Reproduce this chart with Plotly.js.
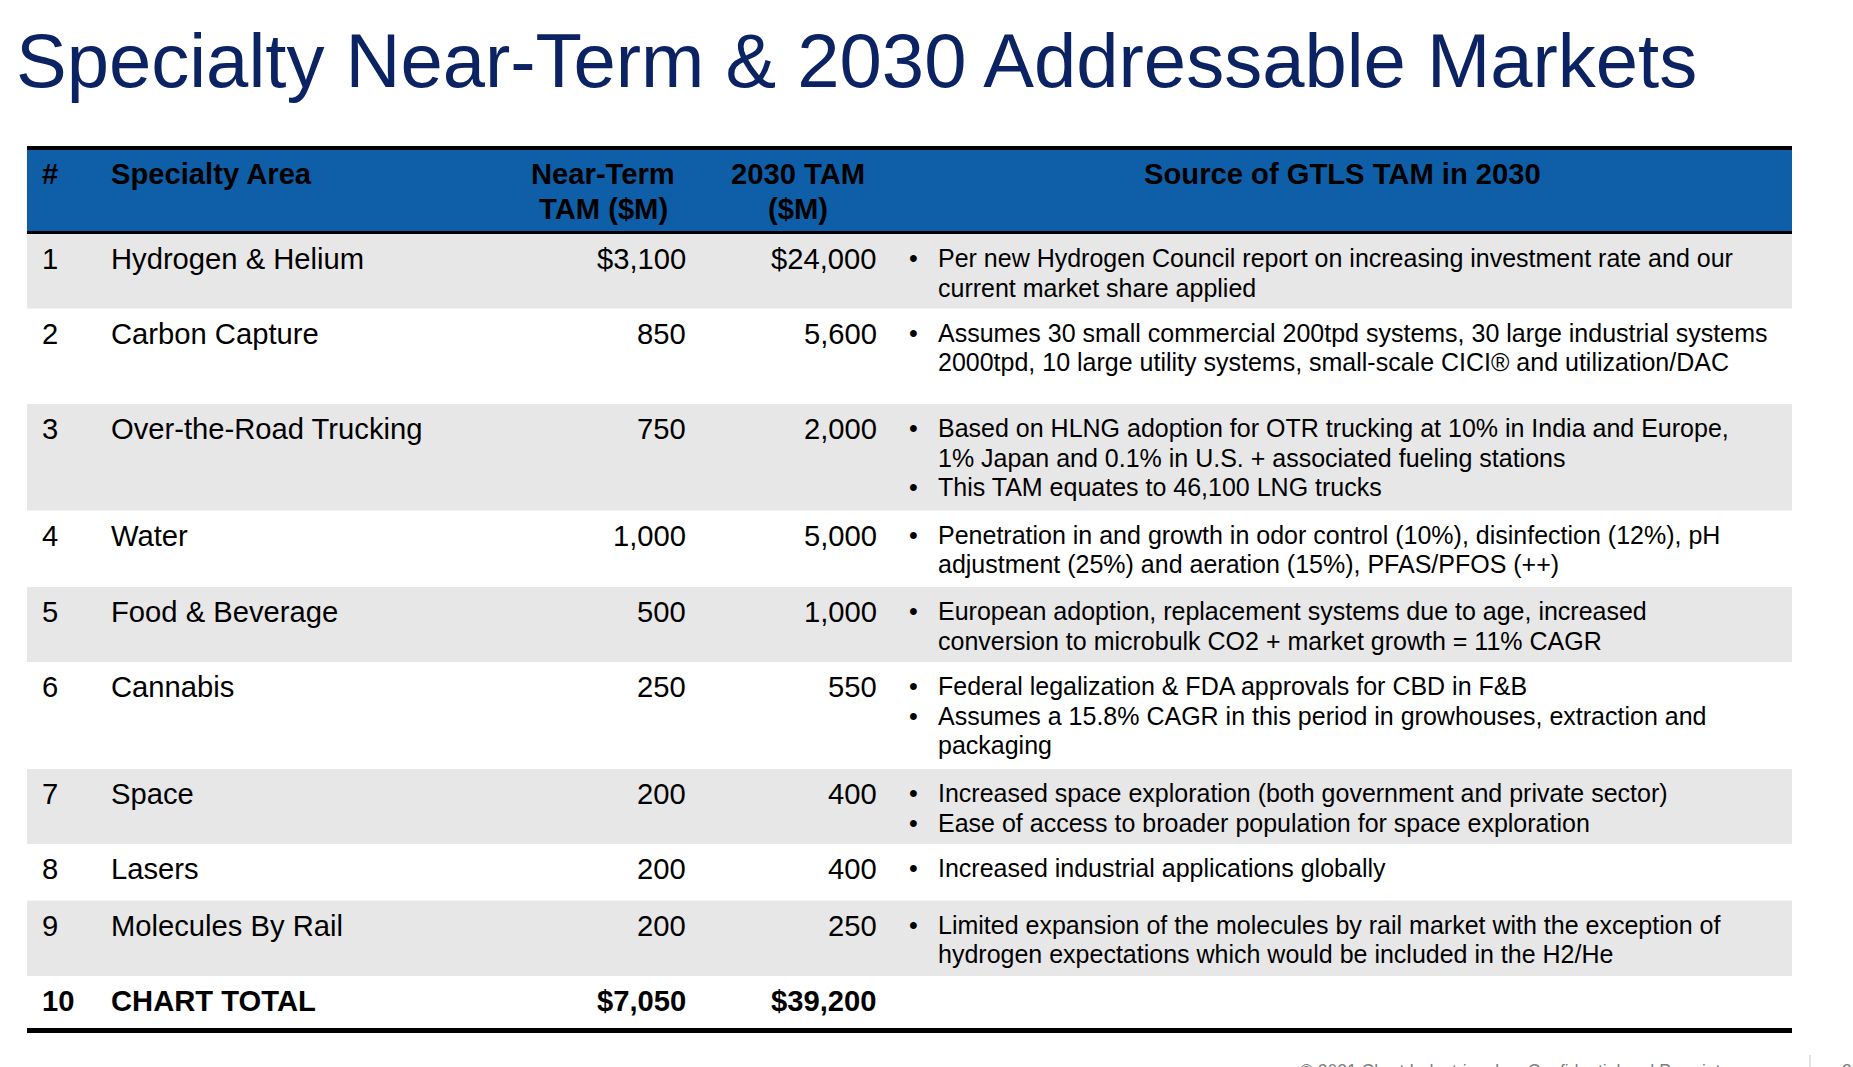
<!DOCTYPE html>
<html><head><meta charset="utf-8">
<script src="https://cdn.plot.ly/plotly-3.0.1.min.js"></script>
<style>html,body{margin:0;padding:0;background:#fff;overflow:hidden}</style>
</head><body><div id="chart" style="width:1853px;height:1067px"></div>
<script>
// ---------- DATA ----------
const titleText = "Specialty Near-Term & 2030 Addressable Markets";
const headers = ["#", "Specialty Area", ["Near-Term", "TAM ($M)"], ["2030 TAM", "($M)"], "Source of GTLS TAM in 2030"];
const rowNums = [1, 2, 3, 4, 5, 6, 7, 8, 9, 10];
const areas = ["Hydrogen & Helium", "Carbon Capture", "Over-the-Road Trucking", "Water", "Food & Beverage",
  "Cannabis", "Space", "Lasers", "Molecules By Rail", "CHART TOTAL"];
const nearTerm = [3100, 850, 750, 1000, 500, 250, 200, 200, 200, 7050];
const tam2030 = [24000, 5600, 2000, 5000, 1000, 550, 400, 400, 250, 39200];
const dollarSign = [true, false, false, false, false, false, false, false, false, true];
const sources = [
  [["Per new Hydrogen Council report on increasing investment rate and our", "current market share applied"]],
  [["Assumes 30 small commercial 200tpd systems, 30 large industrial systems", "2000tpd, 10 large utility systems, small-scale CICI® and utilization/DAC"]],
  [["Based on HLNG adoption for OTR trucking at 10% in India and Europe,", "1% Japan and 0.1% in U.S. + associated fueling stations"], ["This TAM equates to 46,100 LNG trucks"]],
  [["Penetration in and growth in odor control (10%), disinfection (12%), pH", "adjustment (25%) and aeration (15%), PFAS/PFOS (++)"]],
  [["European adoption, replacement systems due to age, increased", "conversion to microbulk CO2 + market growth = 11% CAGR"]],
  [["Federal legalization & FDA approvals for CBD in F&B"], ["Assumes a 15.8% CAGR in this period in growhouses, extraction and", "packaging"]],
  [["Increased space exploration (both government and private sector)"], ["Ease of access to broader population for space exploration"]],
  [["Increased industrial applications globally"]],
  [["Limited expansion of the molecules by rail market with the exception of", "hydrogen expectations which would be included in the H2/He"]],
  []
];
const footerText = "© 2021 Chart Industries, Inc. Confidential and Proprietary";
const pageNum = "2";

// ---------- LAYOUT / STYLE ----------
const W = 1853, H = 1067;
const FONT = "Liberation Sans, Arial, sans-serif";
const tableL = 27, tableR = 1792;
const headTop = 146, headBottom = 231, lineW = 4;
const rowHeights = [74.5, 95.5, 106.5, 76.5, 75, 107, 75, 56.5, 75.5, 52];
const firstLineOffset = 25, lineStep = 29.5;
const colX = {num: 40, area: 109, near: 688, tam: 879, bullet: 907, src: 936, headNear: 603, headTam: 798, headSrc: 1342};
const blue = "#0f5ea8", grey = "#e7e7e7", navy = "#0b2263";
const bodySize = 29.2, srcSize = 25, headSize = 29.2;

const shapes = [];
const ann = [];
function rect(x0, y0, x1, y1, color) {
  shapes.push({type: "rect", xref: "x", yref: "y", x0, x1, y0, y1, fillcolor: color, line: {width: 0}, layer: "below"});
}
function txt(x, y, text, opts) {
  ann.push(Object.assign({xref: "x", yref: "y", x, y, text, showarrow: false, xanchor: "left", yanchor: "middle",
    font: {family: FONT, size: 24, color: "#000"}}, opts || {}));
}

// header
rect(tableL, headTop, tableR, headTop + lineW, "#000");
rect(tableL, headTop + lineW, tableR, headBottom, blue);
rect(tableL, headBottom, tableR, headBottom + lineW, "#000");
const hf = {family: FONT, size: headSize, color: "#000"};
const hy1 = 174, hy2 = 209;
txt(colX.num, hy1, "<b>" + headers[0] + "</b>", {font: hf});
txt(colX.area, hy1, "<b>" + headers[1] + "</b>", {font: hf});
headers[2].forEach((s, k) => txt(colX.headNear, k ? hy2 : hy1, "<b>" + s + "</b>", {font: hf, xanchor: "center"}));
headers[3].forEach((s, k) => txt(colX.headTam, k ? hy2 : hy1, "<b>" + s + "</b>", {font: hf, xanchor: "center"}));
txt(colX.headSrc, hy1, "<b>" + headers[4] + "</b>", {font: hf, xanchor: "center"});

// rows
let yTop = headBottom + lineW - 1;
for (let i = 0; i < rowNums.length; i++) {
  const h = rowHeights[i];
  if (i % 2 === 0 && i < rowNums.length - 1) rect(tableL, yTop, tableR, yTop + h, grey);
  const isTotal = i === rowNums.length - 1;
  const yc = yTop + firstLineOffset;
  const f = {family: FONT, size: bodySize, color: "#000"};
  const wrap = s => isTotal ? "<b>" + s + "</b>" : s;
  const fmt = (v, d) => (d ? "$" : "") + v.toLocaleString("en-US");
  txt(colX.num, yc, wrap(String(rowNums[i])), {font: f});
  txt(colX.area, yc, wrap(areas[i]), {font: f});
  txt(colX.near, yc, wrap(fmt(nearTerm[i], dollarSign[i])), {font: f, xanchor: "right"});
  txt(colX.tam, yc, wrap(fmt(tam2030[i], dollarSign[i])), {font: f, xanchor: "right"});
  let line = 0;
  sources[i].forEach(b => {
    b.forEach((s, k) => {
      const y = yTop + firstLineOffset - 1 + line * lineStep;
      if (k === 0) txt(colX.bullet, y, "•", {font: {family: FONT, size: srcSize, color: "#000"}});
      txt(colX.src, y, s, {font: {family: FONT, size: srcSize, color: "#000"}});
      line++;
    });
  });
  yTop += h;
}
rect(tableL, yTop, tableR, yTop + lineW + 1, "#000");

// title
txt(14, 60, titleText, {font: {family: FONT, size: 76, color: navy}});
// footer
txt(1298, 1059, footerText, {font: {family: FONT, size: 17.5, color: "#7f7f7f"}, yanchor: "top"});
shapes.push({type: "line", xref: "x", yref: "y", x0: 1810, x1: 1810, y0: 1055, y1: 1067, line: {color: "#c8c8c8", width: 1}});
txt(1840, 1059, pageNum, {font: {family: FONT, size: 17.5, color: "#7f7f7f"}, yanchor: "top"});

Plotly.newPlot("chart", [], {
  width: W, height: H, margin: {l: 0, r: 0, t: 0, b: 0},
  paper_bgcolor: "#fff", plot_bgcolor: "#fff",
  xaxis: {range: [0, W], visible: false, fixedrange: true},
  yaxis: {range: [H, 0], visible: false, fixedrange: true},
  shapes: shapes, annotations: ann, showlegend: false
}, {staticPlot: true});
</script></body></html>
